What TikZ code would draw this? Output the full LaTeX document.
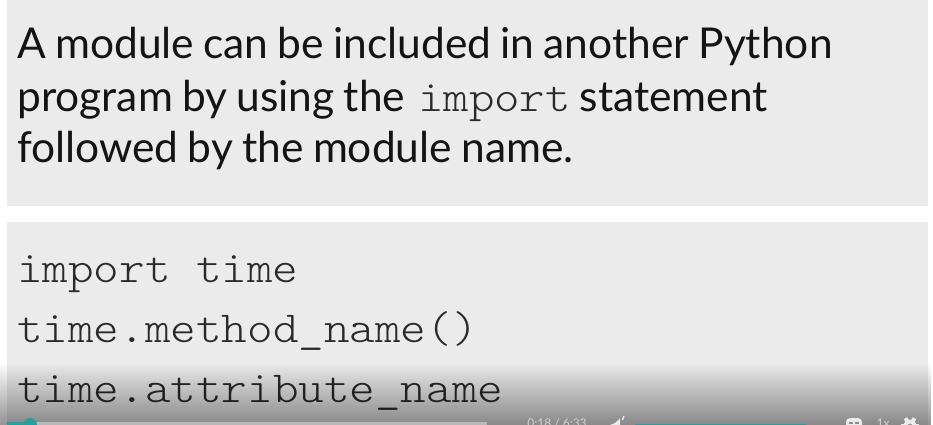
\documentclass[tikz,border=0pt]{standalone}
\usepackage{fontspec}
\setmainfont{Lato}
\newfontfamily\headfont[WordSpace=0.85]{Lato}
\newfontfamily\codefont[FakeStretch=1.1]{Latin Modern Mono Light}
\usepackage{tikz}
\usetikzlibrary{fadings}
\definecolor{panel}{HTML}{EBEBEB}
\definecolor{ink}{HTML}{141414}
\definecolor{codeink}{HTML}{2A2A2A}
\definecolor{teal1}{HTML}{1FA3A0}
\tikzfading[name=barfade, top color=transparent!100, bottom color=transparent!58]
\tikzset{
  x=1pt,y=-1pt,
  panelbox/.style={fill=panel,draw=none},
  heading/.style={anchor=base west,inner sep=0pt,text=ink,font=\headfont\fontsize{42.5}{50}\selectfont},
  headcode/.style={anchor=base west,inner sep=0pt,text=codeink,font=\codefont\fontsize{44}{50}\selectfont},
  codeline/.style={anchor=base west,inner sep=0pt,text=codeink,font=\codefont\fontsize{44.3}{60}\selectfont},
  ctrl/.style={anchor=base,inner sep=0pt,text=white!82!black,font=\fontsize{12}{12}\selectfont},
  icon/.style={fill=white!92!black,draw=none},
}
\begin{document}
\begin{tikzpicture}
\useasboundingbox (0,0) rectangle (933,425);
\clip (0,0) rectangle (933,425);
\fill[white] (0,0) rectangle (933,425);
\fill[panelbox] (7,0) rectangle (928,206);
\fill[panelbox] (7,222) rectangle (928,425);
\node[heading] (l1) at (17,59) {A module can be included in another Python};
\node[heading] (l2a) at (17,111) {program by using the};
\node[headcode] (l2b) at (418,111) {import};
\node[heading] (l2c) at (579.5,111) {statement};
\node[heading] (l3) at (17,162) {followed by the module name.};
\node[codeline] (c1) at (17,282) {import time};
\node[codeline] (c2) at (17,342) {time.method\_name()};
\node[codeline] (c3) at (17,402) {time.attribute\_name};
% video controls overlay
\fill[black,path fading=barfade] (0,362) rectangle (933,425);
\fill[white!72!black] (25,421.5) rectangle (487,425);
\fill[teal1] (7,421.5) rectangle (30,425);
\fill[teal1] (30,425) circle (7);
\node[ctrl] (time) at (557,427.5) {0:18 / 6:33};
\fill[icon] (610,425) -- (615,423) -- (620,418.5) -- (620,425) -- cycle;
\draw[white!92!black,line width=1.3pt] (622.5,420) arc (40:0:6);
\fill[teal1] (635,424) rectangle (806,425);
\fill[icon,rounded corners=4pt] (846,430) rectangle (862,418);
\fill[black!45] (849,421.5) rectangle (853.3,424);
\fill[black!45] (854.8,421.5) rectangle (859,424);
\node[ctrl] (speed) at (883,427.5) {1x};
\fill[icon] (910,426) circle (6.5);
\foreach \a in {0,60,...,300}{\fill[icon] (910,426) ++(\a:5) ++(\a+90:2) -- ++(\a:4) -- ++(\a-90:4) -- ++(\a:-4) -- cycle;}
\fill[black!40] (910,426) circle (2.4);
\end{tikzpicture}
\end{document}
